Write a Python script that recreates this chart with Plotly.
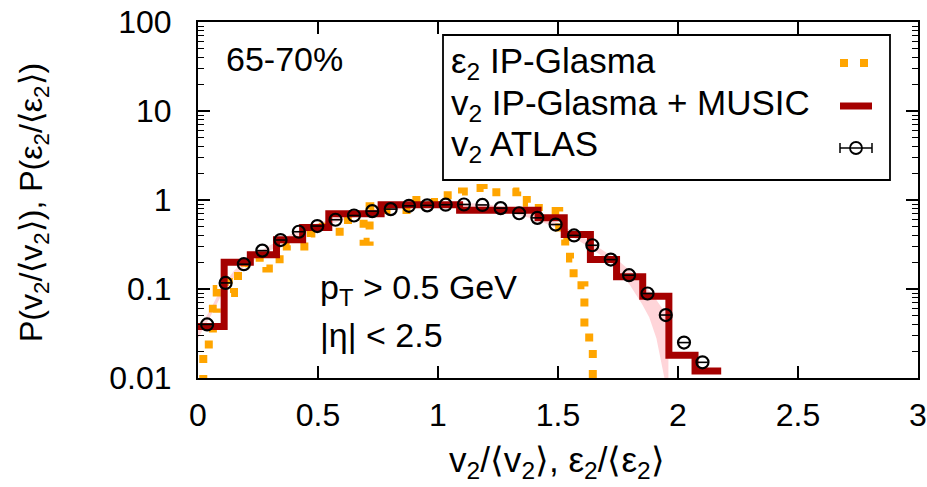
import plotly.graph_objects as go

# ---------------- data ----------------
# IP-Glasma + MUSIC v2 histogram (bin edges and bin contents)
music_edges = [0.0, 0.109, 0.218, 0.327, 0.436, 0.545, 0.654, 0.763, 0.872, 0.981, 1.09,
               1.199, 1.308, 1.417, 1.526, 1.635, 1.744, 1.853, 1.962, 2.071, 2.18]
music_vals = [0.038, 0.20, 0.243, 0.358, 0.49, 0.70, 0.70, 0.885, 0.885, 0.885,
              0.765, 0.765, 0.765, 0.63, 0.41, 0.215, 0.137, 0.083, 0.018, 0.012]

# epsilon_2 IP-Glasma (step starts and values)
eps_x = [0.000, 0.022, 0.045, 0.062, 0.078, 0.090, 0.128, 0.150, 0.195, 0.235, 0.285, 0.340,
         0.370, 0.420, 0.470, 0.520, 0.565, 0.625, 0.690, 0.715, 0.760, 0.890, 0.970, 1.000,
         1.060, 1.100, 1.150, 1.190, 1.330, 1.370, 1.420, 1.505, 1.530, 1.550, 1.565, 1.610,
         1.630, 1.645]
eps_y = [0.006, 0.020, 0.030, 0.060, 0.100, 0.120, 0.090, 0.140, 0.195, 0.225, 0.170, 0.250,
         0.310, 0.300, 0.420, 0.500, 0.440, 0.600, 0.340, 0.850, 0.770, 1.000, 0.950, 1.130,
         1.150, 1.250, 1.360, 1.220, 1.250, 0.930, 0.750, 0.360, 0.290, 0.220, 0.110, 0.036,
         0.022, 0.005]

# ATLAS v2 data
atlas_x = [0.038, 0.115, 0.191, 0.268, 0.344, 0.420, 0.497, 0.573, 0.650, 0.726, 0.803, 0.879,
           0.955, 1.032, 1.108, 1.185, 1.261, 1.338, 1.414, 1.490, 1.567, 1.643, 1.720, 1.796,
           1.873, 1.949, 2.025, 2.102]
atlas_y = [0.040, 0.117, 0.19, 0.27, 0.355, 0.44, 0.51, 0.60, 0.67, 0.75, 0.79, 0.86,
           0.87, 0.885, 0.89, 0.88, 0.81, 0.71, 0.63, 0.53, 0.40, 0.31, 0.214, 0.143,
           0.089, 0.051, 0.025, 0.015]
atlas_xerr = 0.022

# uncertainty band of the hydro calculation
band_x = [0.0, 0.05, 0.1, 0.15, 0.2, 0.3, 0.4, 0.5, 0.6, 0.7, 0.8, 0.9, 1.0, 1.1, 1.2, 1.3,
          1.4, 1.5, 1.6, 1.7, 1.75, 1.8, 1.85, 1.88, 1.91, 1.94, 1.96]
band_hi = [0.034, 0.058, 0.105, 0.16, 0.215, 0.31, 0.43, 0.55, 0.66, 0.77, 0.84, 0.90, 0.93,
           0.93, 0.90, 0.80, 0.68, 0.55, 0.39, 0.26, 0.21, 0.16, 0.115, 0.095, 0.075, 0.058, 0.048]
band_lo = [0.028, 0.048, 0.088, 0.135, 0.185, 0.27, 0.38, 0.49, 0.59, 0.69, 0.76, 0.82, 0.84,
           0.85, 0.81, 0.72, 0.61, 0.48, 0.33, 0.22, 0.165, 0.11, 0.068, 0.048, 0.028, 0.011, 0.006]

y_tickvals = [0.01, 0.1, 1, 10, 100]
y_ticktext = ["0.01", "0.1", "1", "10", "100"]
x_tickvals = [0, 0.5, 1, 1.5, 2, 2.5, 3]
x_ticktext = ["0", "0.5", "1", "1.5", "2", "2.5", "3"]

# ---------------- figure ----------------
W, H = 927, 487
L, R, T, B = 198, 9, 22, 109
PW, PH = W - L - R, H - T - B

def px(xp):
    return (xp - L) / PW

def py(yp):
    return (H - B - yp) / PH

FONT = "Liberation Sans, Arial, sans-serif"
ORANGE = "#FFA500"
DARKRED = "#A50000"

fig = go.Figure()

fig.add_trace(go.Scatter(
    x=band_x + band_x[::-1], y=band_hi + band_lo[::-1],
    fill="toself", fillcolor="rgba(255,150,160,0.4)",
    line=dict(width=0), mode="lines", hoverinfo="skip", showlegend=False))

fig.add_trace(go.Scatter(
    x=eps_x, y=eps_y, mode="lines", line_shape="hv",
    line=dict(color=ORANGE, width=8, dash="8px,12px"), showlegend=False))

fig.add_trace(go.Scatter(
    x=music_edges, y=music_vals + [music_vals[-1]], mode="lines", line_shape="hv",
    line=dict(color=DARKRED, width=7), showlegend=False))

fig.add_trace(go.Scatter(
    x=atlas_x, y=atlas_y, mode="markers",
    marker=dict(symbol="circle-open", size=12, color="black", line=dict(width=2.2)),
    error_x=dict(type="constant", value=atlas_xerr, thickness=1.6, width=0, color="black"),
    showlegend=False))

axis_common = dict(showline=True, linecolor="black", linewidth=2, mirror="ticks",
                   ticks="inside", tickcolor="black", tickwidth=1.5, showgrid=False,
                   zeroline=False, tickfont=dict(family=FONT, size=32, color="black"))

fig.update_xaxes(range=[0, 3], tickmode="array", tickvals=x_tickvals, ticktext=x_ticktext,
                 ticklen=12, ticklabelstandoff=8, **axis_common)
minor_y = [m * 10.0 ** e for e in range(-2, 2) for m in range(2, 10)]
fig.update_yaxes(type="log", range=[-2, 2], tickmode="array", tickvals=y_tickvals,
                 ticktext=y_ticktext, ticklen=12, ticklabelstandoff=18,
                 minor=dict(tickmode="array", tickvals=minor_y, ticks="inside", ticklen=6,
                            tickwidth=1.2, tickcolor="black"),
                 **axis_common)

annots = []
def txt(x, y, s, xanchor="left", size=34, angle=0):
    annots.append(dict(x=x, y=y, xref="paper", yref="paper", text=s, showarrow=False,
                       xanchor=xanchor, yanchor="middle", textangle=angle,
                       font=dict(family=FONT, size=size, color="black")))

txt(px(224), py(59), "65-70%")
txt(px(318), py(289), "p<sub>T</sub> &gt; 0.5 GeV")
txt(px(318), py(335), "|η| &lt; 2.5")
# legend text
txt(px(449), py(63), "ε<sub>2</sub> IP-Glasma", size=35)
txt(px(449), py(105), "v<sub>2</sub> IP-Glasma + MUSIC", size=35)
txt(px(449), py(146), "v<sub>2</sub> ATLAS", size=35)
# axis titles
txt(px(557), py(462), "v<sub>2</sub>/⟨v<sub>2</sub>⟩, ε<sub>2</sub>/⟨ε<sub>2</sub>⟩",
    xanchor="center", size=35)
txt(px(33), py(203), "P(v<sub>2</sub>/⟨v<sub>2</sub>⟩), P(ε<sub>2</sub>/⟨ε<sub>2</sub>⟩)",
    xanchor="center", size=32, angle=-90)

shapes = []
# legend box
shapes.append(dict(type="rect", xref="paper", yref="paper", x0=px(443), x1=px(890),
                   y0=py(180), y1=py(35), line=dict(color="black", width=1.8),
                   fillcolor="rgba(0,0,0,0)"))
# legend samples
shapes.append(dict(type="line", xref="paper", yref="paper", x0=px(840), x1=px(868),
                   y0=py(63), y1=py(63), line=dict(color=ORANGE, width=8, dash="8px,12px")))
shapes.append(dict(type="line", xref="paper", yref="paper", x0=px(840), x1=px(872),
                   y0=py(106), y1=py(106), line=dict(color=DARKRED, width=7)))
shapes.append(dict(type="line", xref="paper", yref="paper", x0=px(840), x1=px(872),
                   y0=py(148), y1=py(148), line=dict(color="black", width=1.5)))
for xc in (840, 872):
    shapes.append(dict(type="line", xref="paper", yref="paper", x0=px(xc), x1=px(xc),
                       y0=py(143), y1=py(153), line=dict(color="black", width=1.5)))
shapes.append(dict(type="circle", xref="paper", yref="paper", x0=px(850), x1=px(862),
                   y0=py(154), y1=py(142), line=dict(color="black", width=1.8)))

fig.update_layout(width=W, height=H, margin=dict(l=L, r=R, t=T, b=B, autoexpand=False),
                  paper_bgcolor="white", plot_bgcolor="white", showlegend=False,
                  annotations=annots, shapes=shapes)

fig.write_html("out.html")
